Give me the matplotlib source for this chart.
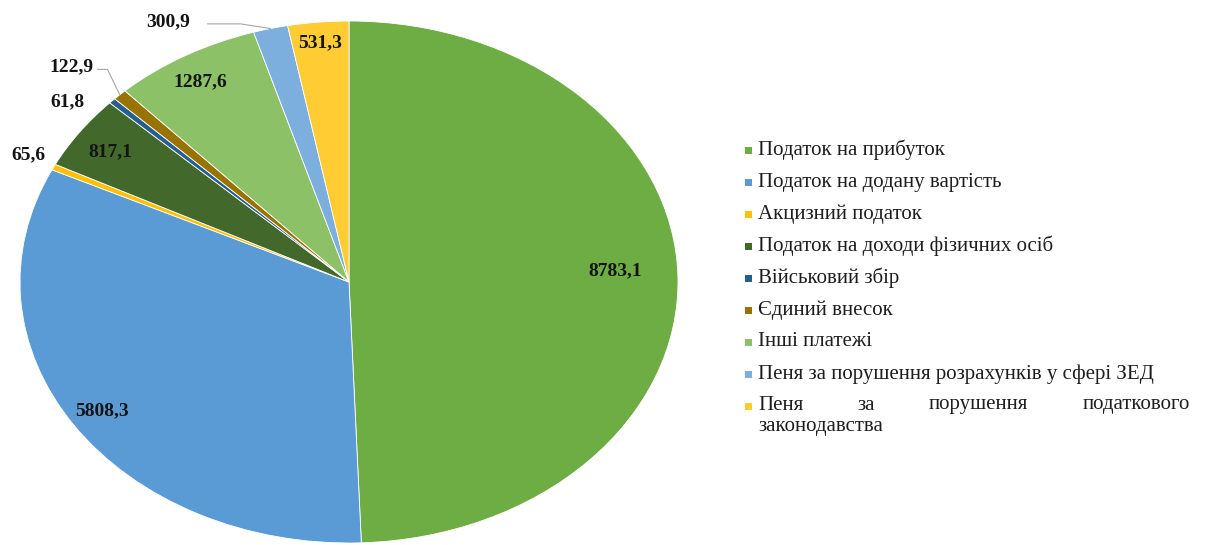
import matplotlib.pyplot as plt
import numpy as np
from matplotlib.patches import Rectangle

categories = [
    "Податок на прибуток",
    "Податок на додану вартість",
    "Акцизний податок",
    "Податок на доходи фізичних осіб",
    "Військовий збір",
    "Єдиний внесок",
    "Інші платежі",
    "Пеня за порушення розрахунків у сфері ЗЕД",
    "Пеня за порушення податкового законодавства",
]
values = [8783.1, 5808.3, 65.6, 817.1, 61.8, 122.9, 1287.6, 300.9, 531.3]
value_labels = ["8783,1", "5808,3", "65,6", "817,1", "61,8", "122,9", "1287,6", "300,9", "531,3"]

colors = ["#6DAD43", "#5B9BD5", "#FFC000", "#43682B", "#255E91",
          "#997300", "#8CC168", "#7CAFDD", "#FFCD33"]

# label placement: radius (fraction of pie) and angle shift from slice middle
label_r = [0.81, 0.90, 1.09, 0.88, 1.10, 1.18, 0.89, 1.14, 0.92]
label_da = [2.0, 0.0, -0.5, 0.5, 5.0, 1.5, 0.7, 15.0, 0.0]
leaders = {5: (0.11, 0.08), 7: (0.22, 0.12)}

plt.rcParams["font.family"] = ["Liberation Serif", "DejaVu Serif"]

W, H = 1211, 545
fig = plt.figure(figsize=(W / 100, H / 100), dpi=100)
cx, cy, rx, ry = 349, 282, 329, 261
ax = fig.add_axes([(cx - rx) / W, (H - cy - ry) / H, 2 * rx / W, 2 * ry / H])

wedges, _ = ax.pie(values, colors=colors, startangle=90, counterclock=False,
                   wedgeprops=dict(edgecolor="white", linewidth=0.6))
ax.set_aspect("auto")
ax.set_xlim(-1, 1)
ax.set_ylim(-1, 1)
ax.set_axis_off()

for i, w in enumerate(wedges):
    mid = np.deg2rad((w.theta1 + w.theta2) / 2 + label_da[i])
    lx = label_r[i] * np.cos(mid)
    ly = label_r[i] * np.sin(mid)
    ax.text(lx, ly, value_labels[i], ha="center", va="center", fontsize=14,
            fontweight="bold", color="#141414", clip_on=False)
    if i in leaders:
        a, b = leaders[i]
        m0 = np.deg2rad((w.theta1 + w.theta2) / 2)
        ex, ey = np.cos(m0), np.sin(m0)
        ax.plot([ex, lx + a, lx + b], [ey, ly - 0.01, ly - 0.01], color="#A6A6A6",
                lw=0.8, clip_on=False)

# legend drawn by hand (last entry is justified over two lines)
x_mark, x_text, x_right = 748, 758, 1190
y0, dy = 150, 32
fs = 15
for i, name in enumerate(categories):
    y = y0 + dy * i
    fig.add_artist(Rectangle(((x_mark - 3.5) / W, (H - y - 3.5) / H), 7 / W, 7 / H,
                             transform=fig.transFigure, color=colors[i], lw=0))
    if i < len(categories) - 1:
        fig.text(x_text / W, (H - y) / H, name, fontsize=fs, color="#1e1e1e",
                 va="center", ha="left")
    else:
        words = name.split()[:4]
        rest = " ".join(name.split()[4:])
        renderer = fig.canvas.get_renderer()
        tmp = [fig.text(0, 0, wd, fontsize=fs) for wd in words]
        widths = [t.get_window_extent(renderer).width for t in tmp]
        for t in tmp:
            t.remove()
        gap = (x_right - x_text - sum(widths)) / (len(words) - 1)
        x = x_text
        for wd, wdt in zip(words, widths):
            fig.text(x / W, (H - y + 1) / H, wd, fontsize=fs, color="#1e1e1e",
                     va="center", ha="left")
            x += wdt + gap
        fig.text(x_text / W, (H - y - 21) / H, rest, fontsize=fs, color="#1e1e1e",
                 va="center", ha="left")

fig.savefig("out.png", dpi=100)
